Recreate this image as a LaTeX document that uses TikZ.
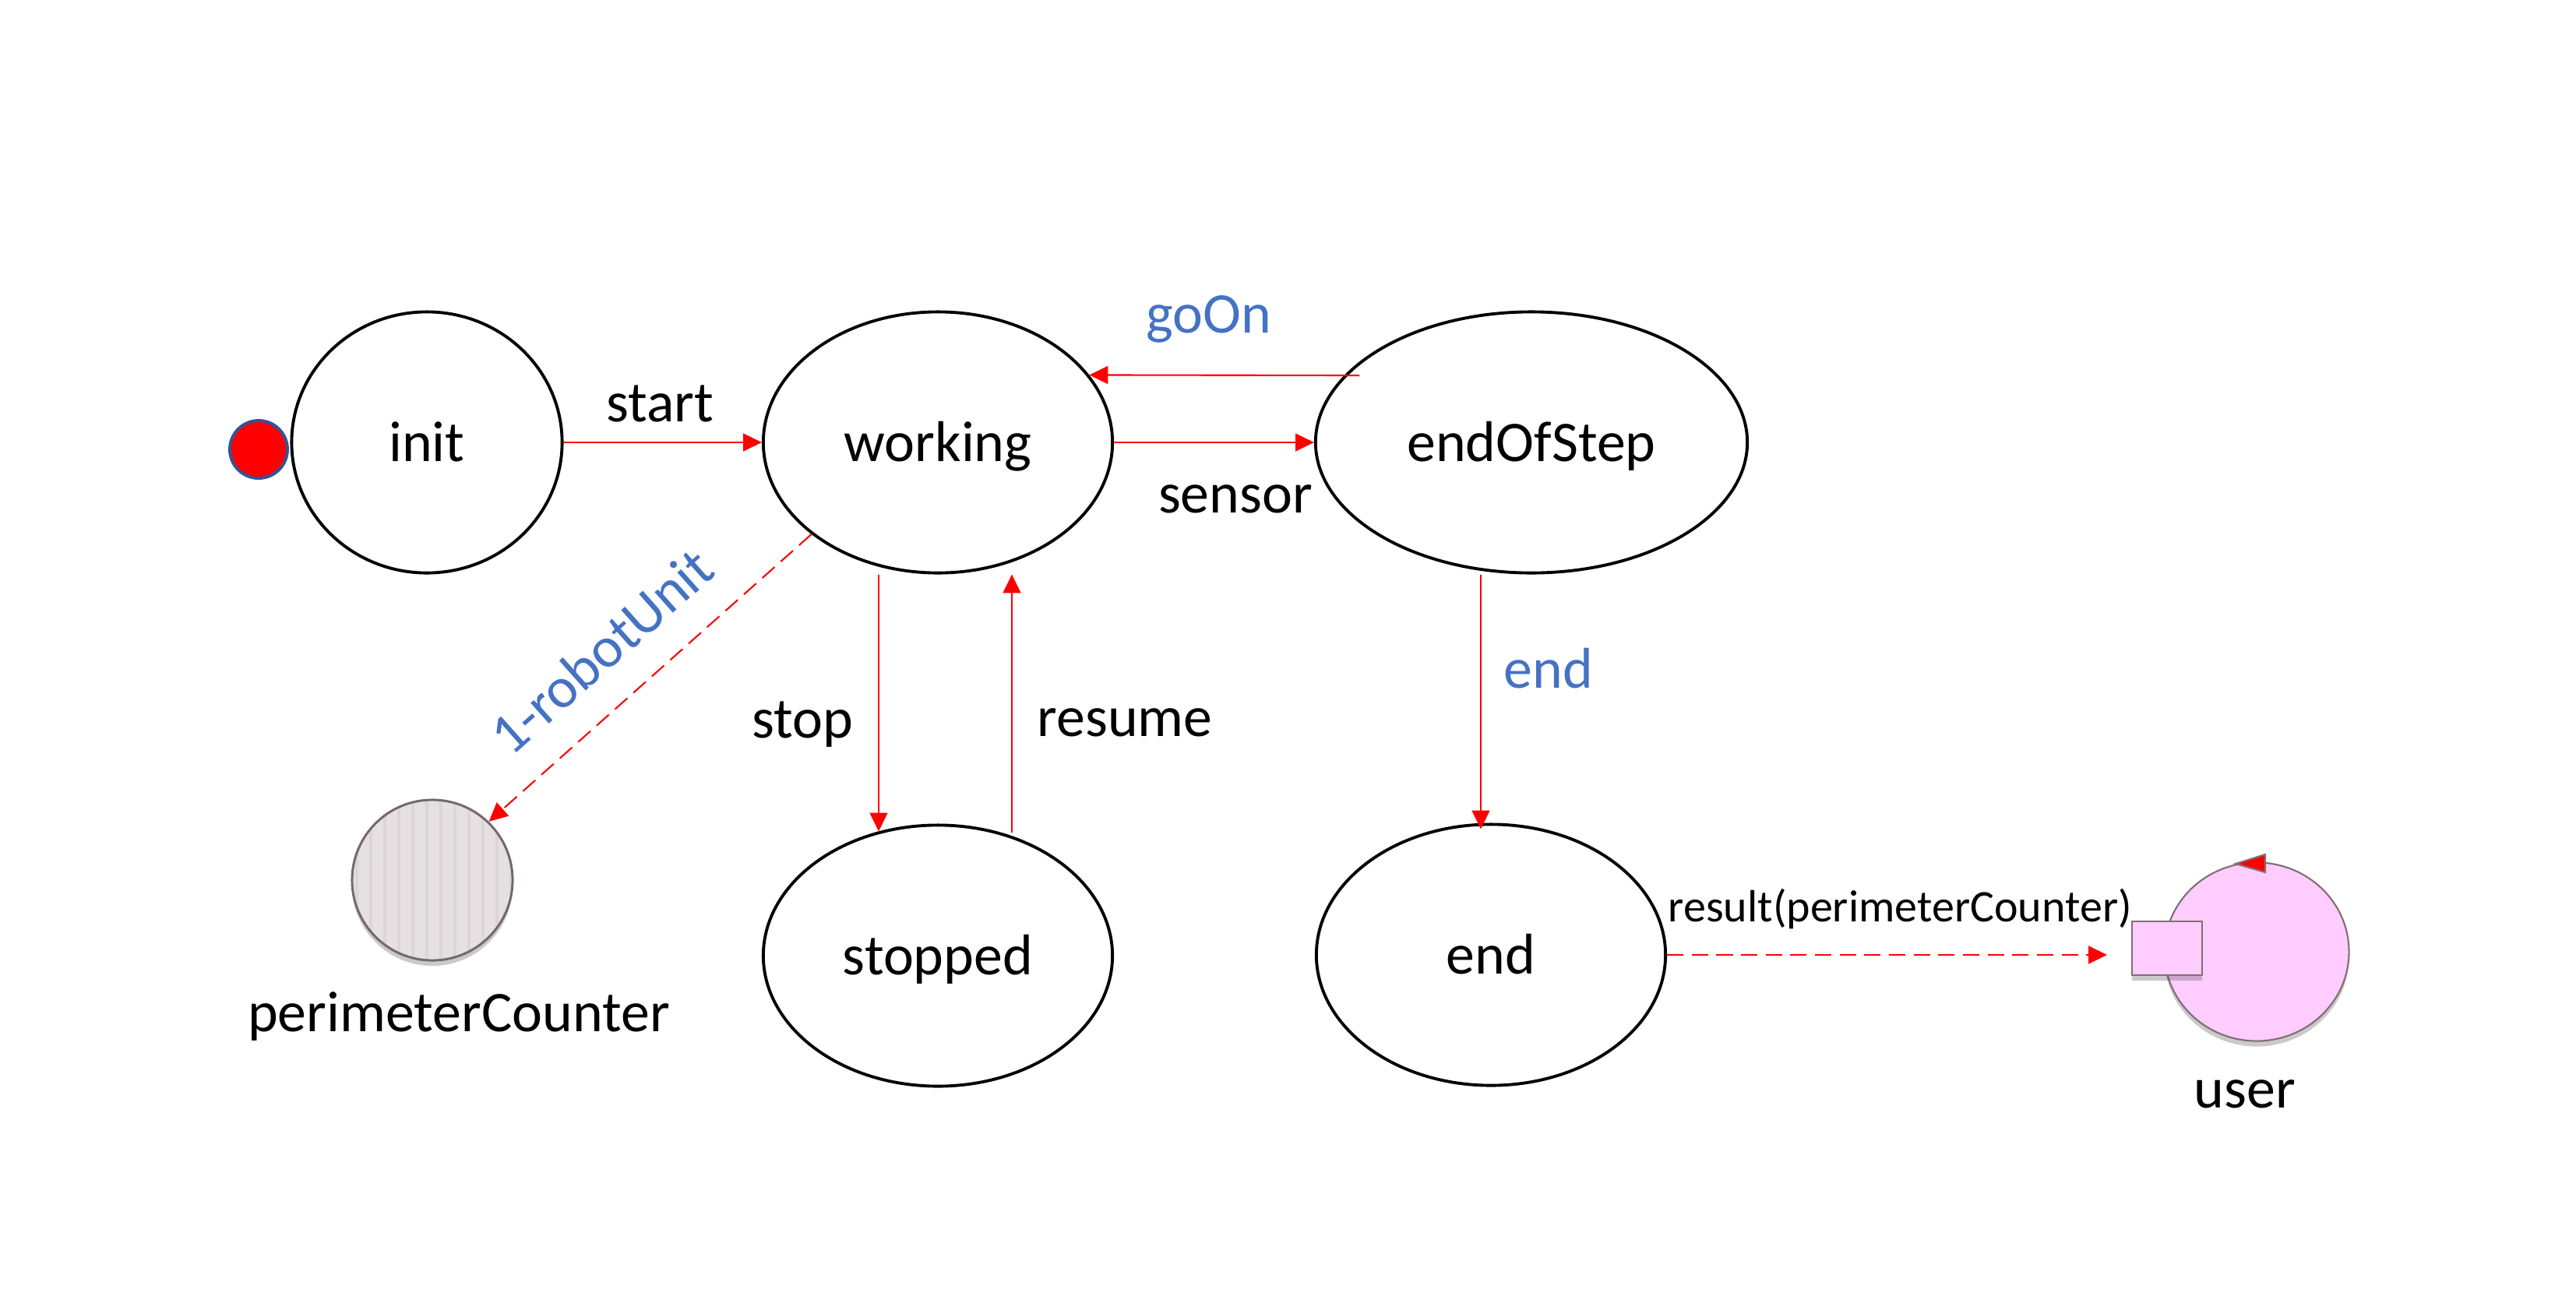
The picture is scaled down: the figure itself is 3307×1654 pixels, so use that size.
\documentclass[tikz,border=0pt]{standalone}
\usepackage{fontspec}
\setmainfont{Carlito}
\usetikzlibrary{arrows.meta,shapes.geometric,shadows,calc}
\definecolor{lblue}{HTML}{4472C4}
\definecolor{dotblue}{HTML}{2F5597}
\definecolor{pcfill}{HTML}{E5E0E2}
\definecolor{pcstripe}{HTML}{DCD5D8}
\definecolor{pcline}{HTML}{74686B}
\definecolor{pinkfill}{HTML}{FFCCFF}
\definecolor{usline}{HTML}{7F6F73}
\begin{document}
\begin{tikzpicture}[x=0.01cm,y=-0.01cm,
  every node/.style={font=\fontsize{21}{25}\selectfont},
  state/.style={ellipse, draw=black, line width=1.1pt, inner sep=0pt,
    text height=14.2pt, text depth=0pt, minimum height=3.35cm},
  conn/.style={draw=red, line width=0.6pt, -{Triangle[length=6.8pt,width=6.5pt]}},
  dconn/.style={conn, dash pattern=on 6pt off 3pt},
  lbl/.style={anchor=base, inner sep=0pt},
  blbl/.style={lbl, text=lblue},
  softshadow/.style={drop shadow={shadow xshift=0pt, shadow yshift=-2pt, opacity=0.28, fill=black!75}},
]
\useasboundingbox (0,0) rectangle (3307,1654);

% initial marker
\node[circle, fill=red, draw=dotblue, line width=1.1pt, minimum size=0.74cm, inner sep=0pt] (dot) at (332,577) {};

% states
\node[state, minimum width=3.47cm] (init) at (548,568) {init};
\node[state, minimum width=4.48cm] (working) at (1204,568) {working};
\node[state, minimum width=5.54cm] (eos) at (1966,568) {endOfStep};
\node[state, minimum width=4.48cm] (stopped) at (1204,1227) {stopped};
\node[state, minimum width=4.48cm] (end) at (1914,1226) {end};

% perimeterCounter actor
\node[circle, minimum size=2.06cm, inner sep=0pt, fill=pcfill, draw=pcline, line width=0.85pt, softshadow,
  path picture={\foreach \k in {0,...,12}{\draw[pcstripe, line width=1pt]
     ($(path picture bounding box.north west)+(\k*18+6,0)$) --
     ($(path picture bounding box.south west)+(\k*18+6,0)$);}}] (pc) at (555,1130) {};

% user actor
\node[ellipse, minimum width=2.37cm, minimum height=2.29cm, inner sep=0pt, fill=pinkfill, draw=usline, line width=0.6pt, softshadow] (user) at (2897,1222) {};
\node[rectangle, minimum width=0.9cm, minimum height=0.69cm, inner sep=0pt, fill=pinkfill, draw=usline, line width=0.8pt, softshadow] (port) at (2782,1217.5) {};
\draw[fill=red, draw=usline, line width=0.6pt] (2870,1109) -- (2908,1097) -- (2908,1120) -- cycle;

% labels
\node[lbl] (lstart) at (847,541) {start};
\node[lbl] (lsensor) at (1586,658) {sensor};
\node[blbl] (lgoon) at (1552,427) {goOn};
\node[lbl] (lstop) at (1030,947) {stop};
\node[lbl] (lresume) at (1444,945) {resume};
\node[blbl] (lend) at (1988,883) {end};
\node[lbl, anchor=base west, font=\fontsize{16.5}{20}\selectfont] (lresult) at (2141,1183) {result(perimeterCounter)};
\node[lbl] (lpc) at (589,1324) {perimeterCounter};
\node[lbl] (luser) at (2882,1422) {user};
\node[text=lblue, rotate=41.6, inner sep=0pt] (lrobot) at (772,836) {1-robotUnit};

% connectors
\coordinate (restip) at (2705,1226);
\draw[conn] (init) -- (working);
\draw[conn] (working) -- (eos);
\draw[conn] ($(eos.center)+(-221,-86)$) -- (working.24.1);
\draw[conn] ($(working.south)+(-76,0)$) -- ($(stopped.north)+(-76,10)$);
\draw[conn] ($(stopped.north)+(95,12)$) -- ($(working.south)+(95,0)$);
\draw[conn] ($(eos.south)+(-65,0)$) -- ($(end.north)+(-13,8)$);
\draw[dconn] (working.216.2) -- (pc.46.2);
\draw[dconn] (end.east) -- (restip);
\end{tikzpicture}
\end{document}
